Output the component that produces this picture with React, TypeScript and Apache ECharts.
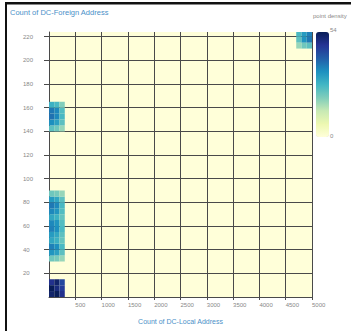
import React, { useEffect, useRef } from 'react';
import * as echarts from 'echarts';

const X_BIN = 100;
const Y_BIN = 5;
const X_MAX = 5000;
const Y_MAX = 224;
const X_TICK = 500;
const Y_TICK = 20;
const DENSITY_MAX = 54;

const YLGNBU = ['#ffffd9', '#edf8b1', '#c7e9b4', '#7fcdbb', '#41b6c4', '#1d91c0', '#225ea8', '#253494', '#081d58'];

// blobs of binned counts: start x bin, start y bin, rows listed bottom to top
const blobBottom = { x: 0, y: 0, rows: [[52, 54, 48], [54, 50, 46], [48, 52, 44]] };
const blobLower = {
  x: 0,
  y: 6,
  rows: [
    [22, 21, 18], [33, 31, 24], [36, 34, 26], [30, 28, 23], [32, 30, 24], [36, 34, 26],
    [35, 33, 25], [30, 28, 23], [35, 33, 25], [37, 35, 26], [32, 30, 24], [22, 21, 18],
  ],
};
const blobUpper = { x: 0, y: 28, rows: [[24, 22, 18], [34, 31, 24], [38, 35, 26], [37, 35, 25], [28, 26, 20]] };
const blobCorner = { x: 47, y: 42, rows: [[18, 22, 24], [24, 33, 37], [26, 32, 36]] };

const blobs = [blobBottom, blobLower, blobUpper, blobCorner];

function buildCells(): number[][] {
  const out: number[][] = [];
  blobs.forEach((b) => {
    b.rows.forEach((row, j) => {
      row.forEach((v, i) => {
        out.push([(b.x + i) * X_BIN, (b.y + j) * Y_BIN, v]);
      });
    });
  });
  return out;
}

const FONT = 'Liberation Sans, Arial, sans-serif';
const GRID_COLOR = '#4a4a4a';
const LABEL_COLOR = '#888';
const TITLE_COLOR = '#4a90c8';

export default function App() {
  const ref = useRef<HTMLDivElement>(null);
  useEffect(() => {
    if (!ref.current) return;
    const chart = echarts.init(ref.current, undefined, { renderer: 'svg' });
    const yTickCount = Math.floor(Y_MAX / Y_TICK) + 1;
    const ySplitColors: string[] = [];
    for (let i = 0; i < yTickCount; i++) ySplitColors.push(GRID_COLOR);
    ySplitColors.push('rgba(0,0,0,0)');

    chart.setOption({
      animation: false,
      title: {
        text: 'Count of DC-Foreign Address',
        left: 10,
        top: 8,
        padding: 0,
        textStyle: { fontSize: 7.5, color: TITLE_COLOR, fontWeight: 'normal', fontFamily: FONT },
      },
      grid: {
        left: 49,
        right: 39,
        top: 32,
        bottom: 34,
        show: true,
        backgroundColor: YLGNBU[0],
        borderWidth: 0,
      },
      xAxis: {
        type: 'value',
        min: 0,
        max: X_MAX,
        interval: X_TICK,
        name: 'Count of DC-Local Address',
        nameLocation: 'middle',
        nameGap: 21,
        nameTextStyle: { fontSize: 7, color: TITLE_COLOR, fontFamily: FONT },
        axisLine: { show: true, lineStyle: { color: GRID_COLOR, width: 1 } },
        axisTick: { show: true, length: 3, lineStyle: { color: GRID_COLOR } },
        splitLine: { show: true, lineStyle: { color: GRID_COLOR, width: 1 } },
        axisLabel: {
          showMinLabel: false,
          fontSize: 6,
          color: LABEL_COLOR,
          fontFamily: FONT,
          align: 'left',
          margin: 5,
          formatter: (v: number) => String(v),
        },
      },
      yAxis: {
        type: 'value',
        min: 0,
        max: Y_MAX,
        interval: Y_TICK,
        axisLine: { show: true, lineStyle: { color: GRID_COLOR, width: 1 } },
        axisTick: { show: true, length: 5, lineStyle: { color: GRID_COLOR } },
        splitLine: { show: true, lineStyle: { color: ySplitColors, width: 1 } },
        axisLabel: {
          showMinLabel: false,
          showMaxLabel: false,
          fontSize: 6,
          color: LABEL_COLOR,
          fontFamily: FONT,
          align: 'left',
          margin: 26,
          formatter: (v: number) => String(v),
        },
      },
      visualMap: {
        type: 'continuous',
        min: 0,
        max: DENSITY_MAX,
        dimension: 2,
        seriesIndex: 0,
        calculable: false,
        hoverLink: false,
        left: 316,
        top: 32,
        padding: 0,
        itemWidth: 13,
        itemHeight: 105,
        text: null,
        inRange: { color: YLGNBU },
      },
      graphic: [
        { type: 'rect', shape: { x: 5, y: 2, width: 2, height: 331 }, style: { fill: '#111' } },
        { type: 'rect', shape: { x: 5, y: 2, width: 346, height: 2.5 }, style: { fill: '#111' } },
        { type: 'text', x: 313, y: 13, style: { text: 'point density', fontSize: 6, fill: LABEL_COLOR, fontFamily: FONT } },
        { type: 'text', x: 330, y: 27, style: { text: String(DENSITY_MAX), fontSize: 6, fill: LABEL_COLOR, fontFamily: FONT } },
        { type: 'text', x: 330, y: 133, style: { text: '0', fontSize: 6, fill: LABEL_COLOR, fontFamily: FONT } },
      ],
      series: [
        {
          type: 'custom',
          data: buildCells(),
          encode: { x: 0, y: 1 },
          z: 1,
          renderItem: (params: any, api: any) => {
            const x0 = api.value(0);
            const y0 = api.value(1);
            const p0 = api.coord([x0, y0]);
            const p1 = api.coord([x0 + X_BIN, y0 + Y_BIN]);
            const cs = params.coordSys;
            const shape = echarts.graphic.clipRectByRect(
              { x: p0[0], y: p1[1], width: p1[0] - p0[0], height: p0[1] - p1[1] },
              { x: cs.x, y: cs.y, width: cs.width, height: cs.height }
            );
            if (!shape) return null;
            return { type: 'rect', shape, style: { fill: api.visual('color') } };
          },
        },
      ],
    });
    return () => chart.dispose();
  }, []);
  return (
    <div
      ref={ref}
      style={{ position: 'fixed', left: 0, top: 0, width: 351, height: 331, background: '#fff' }}
    />
  );
}
